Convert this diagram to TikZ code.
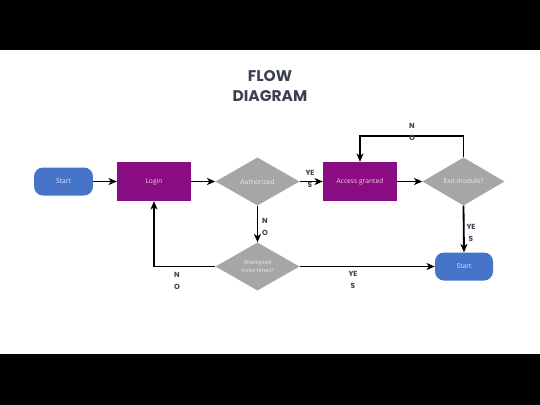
\documentclass[tikz,border=0pt]{standalone}
\usepackage{fontspec}
\setmainfont{Open Sans}
\newfontfamily\poppins{Poppins}
\usetikzlibrary{arrows.meta, positioning, shapes.geometric}

\definecolor{titlegray}{HTML}{3C4152}
\definecolor{startblue}{HTML}{4674C8}
\definecolor{boxpurple}{HTML}{8A0C82}
\definecolor{decgray}{HTML}{A6A6A6}

\begin{document}
\begin{tikzpicture}[
        x=0.05cm, y=-0.05cm,
        terminal/.style={rounded corners=0.45cm, fill=startblue, minimum width=2.95cm, minimum height=1.4cm, text=blue!10!white},
        process/.style={fill=boxpurple, minimum width=3.7cm, minimum height=1.95cm, text=magenta!20!white},
        decision/.style={diamond, fill=decgray, minimum width=4.2cm, minimum height=2.4cm, inner sep=0pt, text=white!92!black, align=center},
        answer/.style={font=\poppins\bfseries\fontsize{10.5}{17}\selectfont, text=titlegray, align=center},
        flow/.style={draw=black, line width=2.6pt, -{Stealth[length=12pt, width=10pt, inset=3.5pt]}},
        every node/.style={font=\fontsize{9.5}{12}\selectfont}
    ]
        \useasboundingbox (0,0) rectangle (540,405);
        \fill[white] (0,0) rectangle (540,405);
        \fill[black] (0,0) rectangle (540,50);
        \fill[black] (0,354) rectangle (540,405);

        % Titel
        \node[font=\poppins\bfseries\fontsize{22}{28}\selectfont, text=titlegray, align=center] (title) at (270,86) {FLOW\\DIAGRAM};

        % Knoten
        \node[terminal] (startL) at (63.5,181.5) {Start};
        \node[process] (login) at (154,181.5) {Login};
        \node[decision] (auth) at (257.5,181.5) {Authorized};
        \node[process] (access) at (360,181.5) {Access granted};
        \node[decision, minimum width=4.1cm] (exitq) at (463.5,181.5) {Exit module?};
        \node[terminal, minimum width=2.9cm] (startR) at (464,266.5) {Start};
        \node[decision, font=\fontsize{8}{11}\selectfont] (attempt) at (257.5,266.5) {Attempted\\three times?};

        % Verbindungen
        \coordinate (noTop) at (412,136);
        \draw[flow] (startL) -- (login);
        \draw[flow] (login) -- (auth);
        \draw[flow] (auth) -- (access);
        \draw[flow] (access) -- (exitq);
        \draw[flow] (exitq.north) |- (noTop) -| (access.north);
        \draw[flow] (exitq.south) -- (startR.north);
        \draw[flow] (auth.south) -- (attempt.north);
        \draw[flow] (attempt.east) -- (startR.west);
        \draw[flow] (attempt.west) -| (login.south);

        % Beschriftungen
        \node[answer] (yesAuth) at (310,179) {YE\\S};
        \node[answer] (noExit) at (412,132) {N\\O};
        \node[answer] (yesExit) at (471,233) {YE\\S};
        \node[answer] (noAuth) at (265,227) {N\\O};
        \node[answer] (yesTry) at (353,280) {YE\\S};
        \node[answer] (noTry) at (177,281) {N\\O};
    \end{tikzpicture}
\end{document}
